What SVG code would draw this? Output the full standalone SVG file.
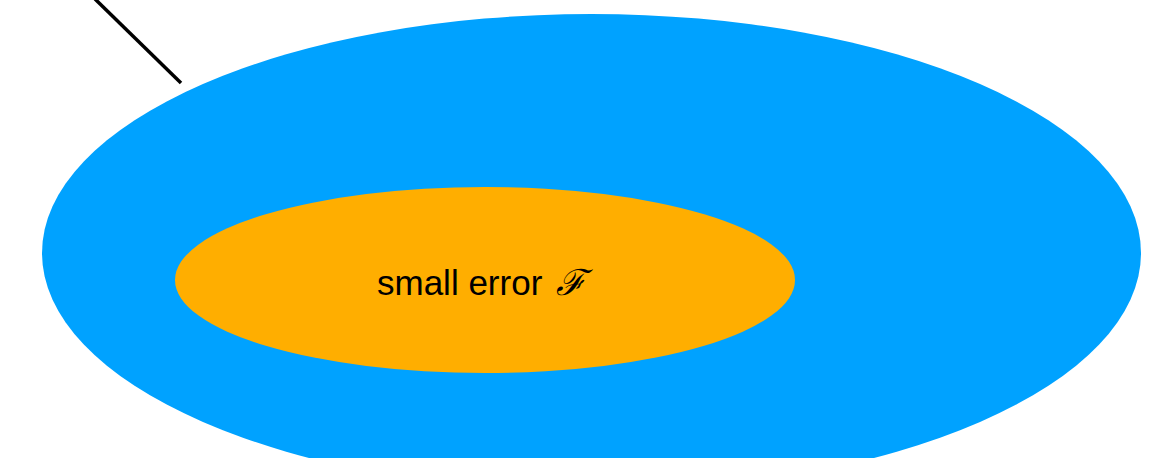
<svg xmlns="http://www.w3.org/2000/svg" width="1173" height="458" viewBox="0 0 1173 458">
<style>
.lbl{font-family:"Liberation Sans",Arial,sans-serif;font-size:35px;fill:#000}
.scr{font-family:"DejaVu Serif",serif;font-style:italic;font-size:36px;fill:#000}
</style>
<rect width="1173" height="458" fill="#fff"/>
<g id="outer"><ellipse cx="591.5" cy="253" rx="549.5" ry="239" fill="#00A2FF"/></g>
<g id="inner"><ellipse cx="485" cy="280" rx="310" ry="93" fill="#FFAE00"/>
<text class="lbl" x="377" y="295">small error <tspan class="scr" x="556">ℱ</tspan></text></g>
<g id="connectors"><line x1="95" y1="-1" x2="181" y2="83" stroke="#000" stroke-width="3.5"/></g>
</svg>
